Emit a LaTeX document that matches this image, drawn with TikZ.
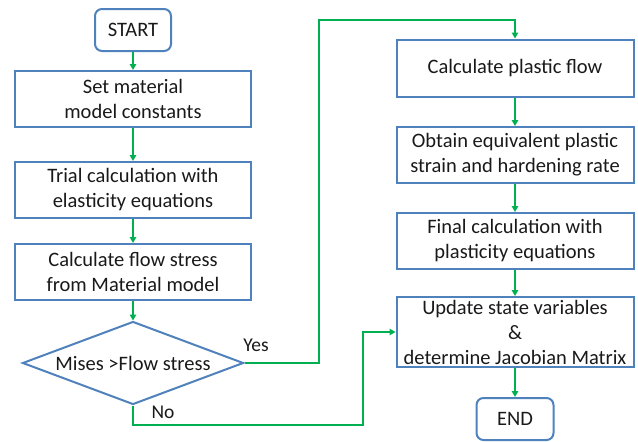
\documentclass[tikz,border=0pt]{standalone}
\usepackage{fontspec}
\setmainfont{Carlito}
\usetikzlibrary{shapes.geometric,arrows.meta}
\definecolor{boxblue}{RGB}{79,129,189}
\definecolor{flowgreen}{RGB}{0,176,80}
\begin{document}
\begin{tikzpicture}[x=1pt,y=-1pt,
  every node/.style={font=\fontsize{20.5}{25}\selectfont, text=black!90},
  procbox/.style={draw=boxblue, line width=2pt, minimum width=236pt, minimum height=56pt, inner sep=0pt, align=center},
  termbox/.style={draw=boxblue, line width=2pt, rounded corners=7pt, minimum width=76pt, minimum height=42pt, inner sep=0pt},
  decbox/.style={draw=boxblue, line width=2pt, diamond, aspect=2.66, minimum width=221pt, minimum height=83pt, inner sep=0pt},
  flow/.style={draw=flowgreen, line width=1.7pt, -{Triangle[length=6pt,width=6.5pt]}},
  lbl/.style={font=\fontsize{19.5}{22}\selectfont}]
\useasboundingbox (0,0) rectangle (638,442);
\node[termbox] (start) at (133,30) {START};
\node[procbox] (b1) at (133,99) {Set material\\model constants};
\node[procbox] (b2) at (133,190) {Trial calculation with\\elasticity equations};
\node[procbox] (b3) at (133,272) {Calculate flow stress\\from Material model};
\node[decbox] (dia) at (133,363) {};
\node at (133,363) {Mises >Flow stress};
\node[procbox, minimum width=237pt, minimum height=57pt] (r1) at (515,68) {Calculate plastic flow};
\node[procbox, minimum width=237pt] (r2) at (515,155) {Obtain equivalent plastic\\strain and hardening rate};
\node[procbox, minimum width=237pt] (r3) at (515,241) {Final calculation with\\plasticity equations};
\node[procbox, minimum width=237pt, minimum height=70pt] (r4) at (515,332) {Update state variables\\\&\\determine Jacobian Matrix};
\node[termbox, minimum width=77pt] (end) at (515,419) {END};
\coordinate (yesA) at (319,363);
\coordinate (yesB) at (515,20);
\coordinate (noA) at (133,425);
\coordinate (noB) at (363,332);
\draw[flow] (start) -- (b1);
\draw[flow] (b1) -- (b2);
\draw[flow] (b2) -- (b3);
\draw[flow] (b3) -- (dia.north);
\draw[flow] (dia.east) -- (yesA) |- (yesB) -- (r1.north);
\draw[flow] (dia.south) -- (noA) -| (noB) -- (r4.west);
\draw[flow] (r1) -- (r2);
\draw[flow] (r2) -- (r3);
\draw[flow] (r3) -- (r4);
\draw[flow] (r4) -- (end);
\node[lbl] (yes) at (256,345) {Yes};
\node[lbl] (no) at (163,412) {No};
\end{tikzpicture}
\end{document}
